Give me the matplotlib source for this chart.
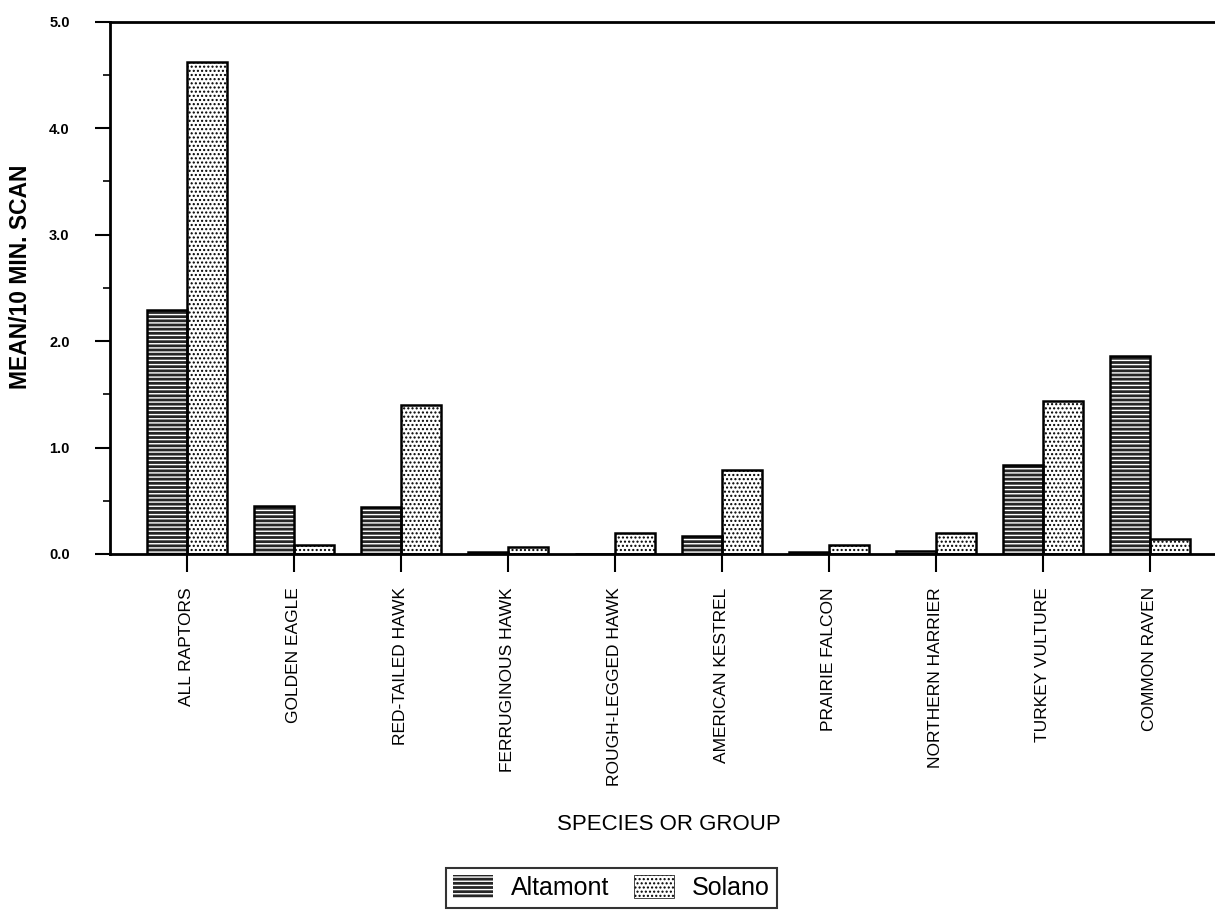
import numpy as np
import matplotlib
matplotlib.use("Agg")
import matplotlib.pyplot as plt
from matplotlib.patches import Patch
from matplotlib.ticker import MultipleLocator

plt.rcParams["font.family"] = ["Liberation Sans", "DejaVu Sans"]
plt.rcParams["hatch.linewidth"] = 1.0

# 種・グループ別の平均出現数 (10分スキャンあたり)
species = ["ALL RAPTORS", "GOLDEN EAGLE", "RED-TAILED HAWK", "FERRUGINOUS HAWK",
           "ROUGH-LEGGED HAWK", "AMERICAN KESTREL", "PRAIRIE FALCON",
           "NORTHERN HARRIER", "TURKEY VULTURE", "COMMON RAVEN"]
altamont = [2.29, 0.45, 0.44, 0.02, 0.0, 0.17, 0.02, 0.03, 0.84, 1.86]
solano = [4.62, 0.08, 1.40, 0.07, 0.20, 0.79, 0.08, 0.20, 1.44, 0.14]
yticks = [0.0, 1.0, 2.0, 3.0, 4.0, 5.0]

W = 0.375
x = np.arange(len(species))
DARK = "#262626"

fig = plt.figure(figsize=(12.15, 9.17), dpi=100)
ax = fig.add_axes([0.0905, 0.3959, 0.9095, 0.5804])

# Altamont: 濃い灰色に白い横線
ax.bar(x - W / 2, altamont, W, color=DARK, edgecolor="white", hatch="----",
       linewidth=0, zorder=2)
ax.bar(x - W / 2, altamont, W, fill=False, edgecolor="black", linewidth=1.8, zorder=3)
# Solano: 白地に点
ax.bar(x + W / 2, solano, W, color="white", edgecolor="black", hatch="....",
       linewidth=0, zorder=2)
ax.bar(x + W / 2, solano, W, fill=False, edgecolor="black", linewidth=1.8, zorder=3)

ax.set_xlim(-0.72, 9.61)
ax.set_ylim(0, 5.0)
ax.set_yticks(yticks)
ax.set_yticklabels(["%.1f" % v for v in yticks], fontsize=10.5, fontweight="bold")
ax.yaxis.set_minor_locator(MultipleLocator(0.5))
ax.tick_params(axis="y", which="major", direction="out", length=11, width=1.5, pad=18)
ax.tick_params(axis="y", which="minor", direction="out", length=5, width=1.2)
ax.set_xticks(x)
ax.set_xticklabels(species, rotation=90, fontsize=12.5, va="top")
ax.tick_params(axis="x", direction="out", length=13, width=1.5, pad=11)

for s in ["left", "bottom", "top"]:
    ax.spines[s].set_linewidth(2)
ax.spines["right"].set_visible(False)

fig.text(0.017, 0.698, "MEAN/10 MIN. SCAN", rotation=90, ha="center", va="center",
         fontsize=16.5, fontweight="bold")
fig.text(0.5506, 0.1014, "SPECIES OR GROUP", ha="center", va="center", fontsize=16)

handles = [Patch(facecolor=DARK, edgecolor="white", hatch="----", linewidth=0),
           Patch(facecolor="white", edgecolor="black", hatch="....", linewidth=0.5)]
leg = fig.legend(handles, ["Altamont", "Solano"], loc="center",
                 bbox_to_anchor=(0.503, 0.032), ncol=2, fontsize=18, frameon=True,
                 fancybox=False, edgecolor="black", handlelength=1.6, handleheight=1.0,
                 columnspacing=1.0, handletextpad=0.7, borderpad=0.3)
leg.get_frame().set_linewidth(1.5)

fig.savefig("out.png", dpi=100)
